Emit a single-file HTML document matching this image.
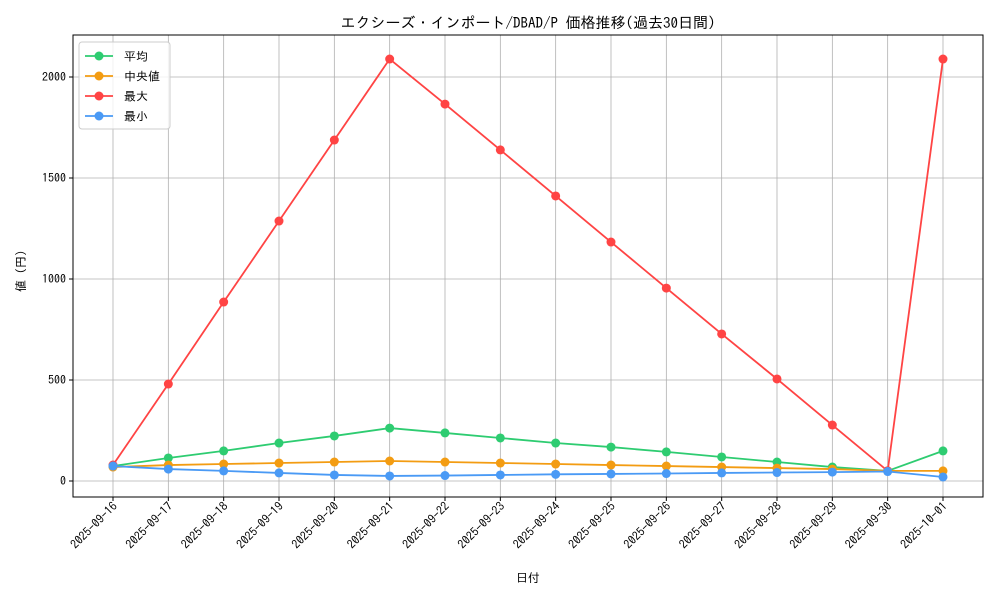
<!DOCTYPE html>
<html><head><meta charset="utf-8">
<style>
html,body{margin:0;padding:0;background:#fff;}
svg{display:block;font-family:"IPAGothic","Noto Sans CJK JP",monospace;}
</style></head>
<body>
<svg id="chart" width="1000" height="600" viewBox="0 0 1000 600"></svg>
<script>
const categories = ["2025-09-16","2025-09-17","2025-09-18","2025-09-19","2025-09-20","2025-09-21","2025-09-22","2025-09-23","2025-09-24","2025-09-25","2025-09-26","2025-09-27","2025-09-28","2025-09-29","2025-09-30","2025-10-01"];
const avgValues = [74,114,149,188,223,262,238,213,188,168,144,119,94,69,50,149];
const medianValues = [69,79,84,89,94,99,94,89,84,79,74,69,64,59,50,50];
const maxValues = [79,480,886,1287,1688,2089,1866,1639,1411,1183,955,728,505,277,50,2089];
const minValues = [74,59,50,40,30,25,27,30,33,35,37,40,42,44,47,20];
const yTicks = [0,500,1000,1500,2000];
const seriesNames = ["平均","中央値","最大","最小"];

const NS="http://www.w3.org/2000/svg";
const svg=document.getElementById('chart');
const L=73,R=983,T=35,B=497;
const x0=113,xStep=(943-113)/(categories.length-1);
function xs(i){return x0+i*xStep;}
function ys(v){return 481-v*0.202;}
function mk(tag,attrs,parent){const e=document.createElementNS(NS,tag);for(const k in attrs)e.setAttribute(k,attrs[k]);(parent||svg).appendChild(e);return e;}

const grid=mk('g',{});


categories.forEach((c,i)=>{mk('line',{x1:xs(i),x2:xs(i),y1:T,y2:B,stroke:'#b0b0b0','stroke-width':0.8},grid);});
yTicks.forEach(v=>{mk('line',{x1:L,x2:R,y1:ys(v),y2:ys(v),stroke:'#b0b0b0','stroke-width':0.8},grid);});

const frame=mk('rect',{x:L,y:T,width:R-L,height:B-T,fill:'none',stroke:'#000','stroke-width':1});



categories.forEach((c,i)=>{
  mk('line',{x1:xs(i),x2:xs(i),y1:B,y2:B+4,stroke:'#000'});
  const t=mk('text',{x:0,y:0,'font-size':12,'text-anchor':'end',transform:`translate(${xs(i)+5},${B+10}) rotate(-45)`});
  t.textContent=c;
  
  
});
yTicks.forEach(v=>{
  mk('line',{x1:L-4,x2:L,y1:ys(v),y2:ys(v),stroke:'#000'});
  const t=mk('text',{x:L-7,y:ys(v)+4,'font-size':12,'text-anchor':'end'});
  t.textContent=v;
  
  
});

const colors=["#2ecc71","#f39c12","#ff4444","#4a9af5"];
const data=[avgValues,medianValues,maxValues,minValues];
[0,1,2,3].forEach(si=>{
  const g=mk('g',{});
  
  
  const pts=data[si].map((v,i)=>xs(i)+','+ys(v)).join(' ');
  mk('polyline',{points:pts,fill:'none',stroke:colors[si],'stroke-width':1.8},g);
  data[si].forEach((v,i)=>{
    const c=mk('circle',{cx:xs(i),cy:ys(v),r:4.5,fill:colors[si]},g);
    
    
  });
});

const title=mk('text',{x:528,y:28,'font-size':15,'text-anchor':'middle'});
title.textContent="エクシーズ・インポート/DBAD/P 価格推移(過去30日間)";


const xl=mk('text',{x:528,y:582,'font-size':12,'text-anchor':'middle'});
xl.textContent="日付";


const yl=mk('text',{x:0,y:0,'font-size':12,'text-anchor':'middle',transform:'translate(25,271) rotate(-90)'});
yl.textContent="値 (円)";



const lg=mk('g',{});


mk('rect',{x:79,y:42,width:91,height:87,rx:3,fill:'#fff','fill-opacity':0.8,stroke:'#ccc'},lg);
seriesNames.forEach((n,i)=>{
  const y=56+i*20;
  const e=mk('g',{},lg);
  
  
  mk('line',{x1:85,x2:113,y1:y,y2:y,stroke:colors[i],'stroke-width':1.8},e);
  mk('circle',{cx:99,cy:y,r:4.5,fill:colors[i]},e);
  const t=mk('text',{x:124,y:y+4.5,'font-size':12},e);
  t.textContent=n;
});
</script>
</body></html>
